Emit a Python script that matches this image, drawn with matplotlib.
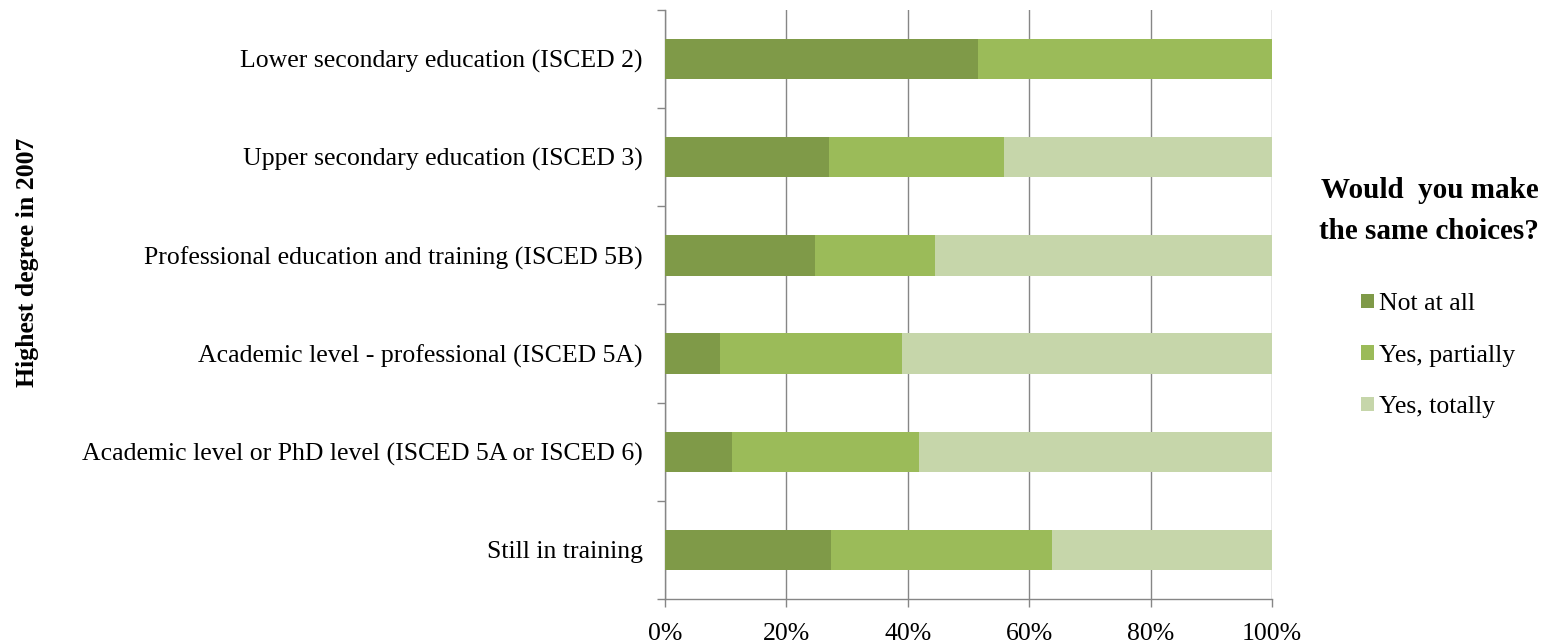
import matplotlib.pyplot as plt
import numpy as np

plt.rcParams['font.family'] = ['Liberation Serif', 'DejaVu Serif']

categories = [
    'Lower secondary education (ISCED 2)',
    'Upper secondary education (ISCED 3)',
    'Professional education and training (ISCED 5B)',
    'Academic level - professional (ISCED 5A)',
    'Academic level or PhD level (ISCED 5A or ISCED 6)',
    'Still in training',
]
not_at_all = [51.6, 27.0, 24.7, 9.0, 11.0, 27.3]
yes_partially = [48.4, 28.8, 19.8, 30.0, 30.9, 36.4]
yes_totally = [0.0, 44.2, 55.5, 61.0, 58.1, 36.3]
series_names = ['Not at all', 'Yes, partially', 'Yes, totally']
colors = ['#7F9A48', '#9BBB59', '#C6D6AA']
xticks = [0, 20, 40, 60, 80, 100]

fig = plt.figure(figsize=(15.52, 6.44), dpi=100)
ax = fig.add_axes([0.4285, 0.0699, 0.3911, 0.9146])

# stacked horizontal bars, top category first
y = np.arange(len(categories))[::-1]
left = np.zeros(len(categories))
for vals, name, c in zip([not_at_all, yes_partially, yes_totally], series_names, colors):
    ax.barh(y, vals, left=left, height=0.41, color=c, label=name, zorder=3)
    left += np.array(vals)

ax.set_xlim(0, 100)
ax.set_ylim(-0.5, len(categories) - 0.5)
ax.set_xticks(xticks)
ax.set_xticklabels([f'{v}%' for v in xticks], fontsize=18.5)
ax.set_yticks(y)
ax.set_yticklabels(categories, fontsize=18.5)
# tick marks sit between categories
ax.set_yticks(np.arange(len(categories) + 1) - 0.5, minor=True)
ax.tick_params(axis='y', which='major', length=0, pad=16)
ax.tick_params(axis='y', which='minor', length=6, color='#868686', width=1)
ax.tick_params(axis='x', length=6, color='#868686', width=1, pad=11)

ax.grid(axis='x', color='#868686', linewidth=1, zorder=0)
for s in ['top', 'right']:
    ax.spines[s].set_visible(False)
for s in ['left', 'bottom']:
    ax.spines[s].set_color('#868686')
    ax.spines[s].set_linewidth(1)

fig.text(0.018, 0.593, 'Highest degree in 2007', rotation=90, fontsize=18.5,
         fontweight='bold', ha='center', va='center')

fig.text(0.921, 0.672, 'Would  you make\nthe same choices?', fontsize=21,
         fontweight='bold', ha='center', va='center', linespacing=1.65)
handles, labels = ax.get_legend_handles_labels()
fig.legend(handles, labels, loc='upper left', bbox_to_anchor=(0.862, 0.581),
           frameon=False, fontsize=18.5, handlelength=0.5, handleheight=0.5,
           handletextpad=0.2, labelspacing=1.15)

fig.savefig('out.png', dpi=100)
